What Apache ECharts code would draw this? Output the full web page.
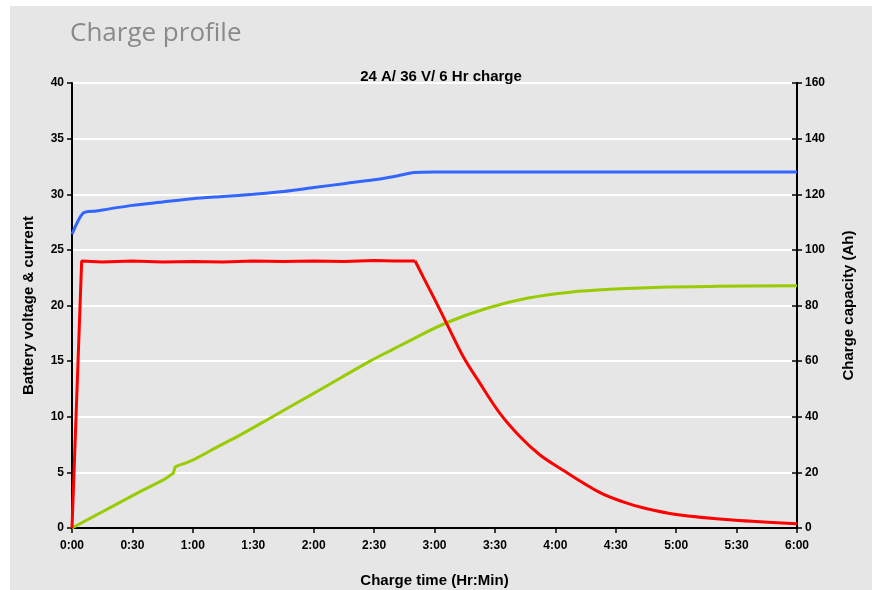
<!DOCTYPE html>
<html>
<head>
<meta charset="utf-8">
<script src="https://cdn.jsdelivr.net/npm/echarts@6/dist/echarts.min.js"></script>
<style>
html,body{margin:0;padding:0;background:#fff;width:877px;height:590px;overflow:hidden;}
#chart{position:absolute;left:10px;top:6px;width:862px;height:584px;background:#e6e6e6;}
</style>
</head>
<body>
<div id="chart"></div>
<script>
// time in minutes
const voltageTime = [0, 5.5, 12, 30, 45, 60, 75, 90, 105, 120, 135, 150, 160, 170, 180, 240, 300, 360];
const voltage     = [26.4, 28.3, 28.5, 29.0, 29.3, 29.6, 29.8, 30.0, 30.25, 30.6, 30.95, 31.3, 31.6, 31.95, 32.0, 32.0, 32.0, 32.0];

const currentTime = [0, 4.8, 15, 30, 45, 60, 75, 90, 105, 120, 135, 150, 160, 170.4, 174.3, 179.4, 186, 194.3, 202.6, 212.5, 222.5, 232.4, 242.3, 262, 273.6, 285, 300, 328, 360];
const current     = [0, 24.0, 23.9, 24.0, 23.9, 23.95, 23.9, 24.0, 23.95, 24.0, 23.95, 24.05, 24.0, 24.0, 22.6, 20.8, 18.4, 15.4, 13.0, 10.3, 8.2, 6.56, 5.37, 3.2, 2.35, 1.75, 1.22, 0.72, 0.39];
const currentKink = 13; // index where taper starts

const capacityTime = [0, 33.8, 45.4, 50.3, 51.2, 53.6, 61, 71.8, 83.4, 100, 120, 148, 160, 170, 186, 206, 225.8, 247.3, 272, 292, 320, 360];
const capacity     = [0, 13.1, 17.3, 19.7, 22.0, 22.7, 24.8, 29.0, 33.4, 40.2, 48.4, 60, 64.5, 68.2, 73.8, 79.0, 82.6, 84.8, 86.0, 86.6, 86.9, 87.1];
const capacityKink = 5;

const leftTicks  = {min: 0, max: 40, interval: 5};
const rightTicks = {min: 0, max: 160, interval: 20};

const pair = (xs, ys) => xs.map((x, i) => [x, ys[i]]);
const fmtTime = v => Math.floor(v / 60) + ':' + String(v % 60).padStart(2, '0');

const chart = echarts.init(document.getElementById('chart'));
const FONT = 'Liberation Sans, Arial';
const lbl = {color: '#000', fontFamily: FONT, fontWeight: 'bold', fontSize: 12};
const nameStyle = {color: '#000', fontFamily: FONT, fontWeight: 'bold', fontSize: 15};
const curPts = pair(currentTime, current);
const capPts = pair(capacityTime, capacity);
chart.setOption({
  backgroundColor: '#e6e6e6',
  animation: false,
  title: [
    {text: 'Charge profile', left: 55, top: 10,
     textStyle: {color: '#8a8a8a', fontFamily: 'Open Sans', fontWeight: 'normal', fontSize: 26}},
    {text: '24 A/ 36 V/ 6 Hr charge', left: 'center', top: 58,
     textStyle: {color: '#000', fontFamily: FONT, fontWeight: 'bold', fontSize: 15}}
  ],
  grid: {left: 62, right: 75, top: 77, bottom: 62, containLabel: false, outerBoundsMode: 'none',
         show: true, borderColor: '#000', borderWidth: 2, backgroundColor: 'transparent'},
  xAxis: {
    type: 'value', min: 0, max: 360, interval: 30,
    name: 'Charge time (Hr:Min)', nameLocation: 'middle', nameGap: 45, nameTextStyle: nameStyle,
    axisLine: {lineStyle: {color: '#000', width: 2}},
    axisTick: {show: true, length: 5, lineStyle: {color: '#000', width: 1.5}},
    axisLabel: Object.assign({formatter: fmtTime, margin: 12}, lbl),
    splitLine: {show: false}
  },
  yAxis: [
    Object.assign({type: 'value', position: 'left',
     name: 'Battery voltage & current', nameLocation: 'middle', nameGap: 36, nameTextStyle: nameStyle,
     axisLine: {show: true, lineStyle: {color: '#000', width: 2}},
     axisTick: {show: true, length: 5, lineStyle: {color: '#000', width: 1.5}},
     axisLabel: Object.assign({margin: 8}, lbl),
     splitLine: {show: true, lineStyle: {color: '#ffffff', width: 2}}}, leftTicks),
    Object.assign({type: 'value', position: 'right',
     name: 'Charge capacity (Ah)', nameLocation: 'middle', nameGap: 44, nameTextStyle: nameStyle,
     axisLine: {show: true, lineStyle: {color: '#000', width: 2}},
     axisTick: {show: true, length: 5, lineStyle: {color: '#000', width: 1.5}},
     axisLabel: Object.assign({margin: 8}, lbl),
     splitLine: {show: false}}, rightTicks),
    Object.assign({type: 'value', position: 'right',
     axisLine: {show: false},
     axisTick: {show: true, inside: true, length: 5, lineStyle: {color: '#000', width: 1.5}},
     axisLabel: {show: false},
     splitLine: {show: false}}, rightTicks)
  ],
  series: [
    {type: 'line', name: 'Voltage', yAxisIndex: 0, data: pair(voltageTime, voltage), smooth: 0.25,
     showSymbol: false, lineStyle: {color: '#3366ff', width: 3}, z: 3},
    {type: 'line', name: 'Current', yAxisIndex: 0, data: curPts.slice(0, currentKink + 1), smooth: false,
     showSymbol: false, lineStyle: {color: '#ff0000', width: 3}, z: 4},
    {type: 'line', name: 'Current taper', yAxisIndex: 0, data: curPts.slice(currentKink), smooth: 0.35,
     showSymbol: false, lineStyle: {color: '#ff0000', width: 3}, z: 4},
    {type: 'line', name: 'Capacity', yAxisIndex: 1, data: capPts.slice(0, capacityKink + 1), smooth: false,
     showSymbol: false, lineStyle: {color: '#99cc00', width: 3}, z: 2},
    {type: 'line', name: 'Capacity 2', yAxisIndex: 1, data: capPts.slice(capacityKink), smooth: 0.35,
     showSymbol: false, lineStyle: {color: '#99cc00', width: 3}, z: 2}
  ]
});
</script>
</body>
</html>
